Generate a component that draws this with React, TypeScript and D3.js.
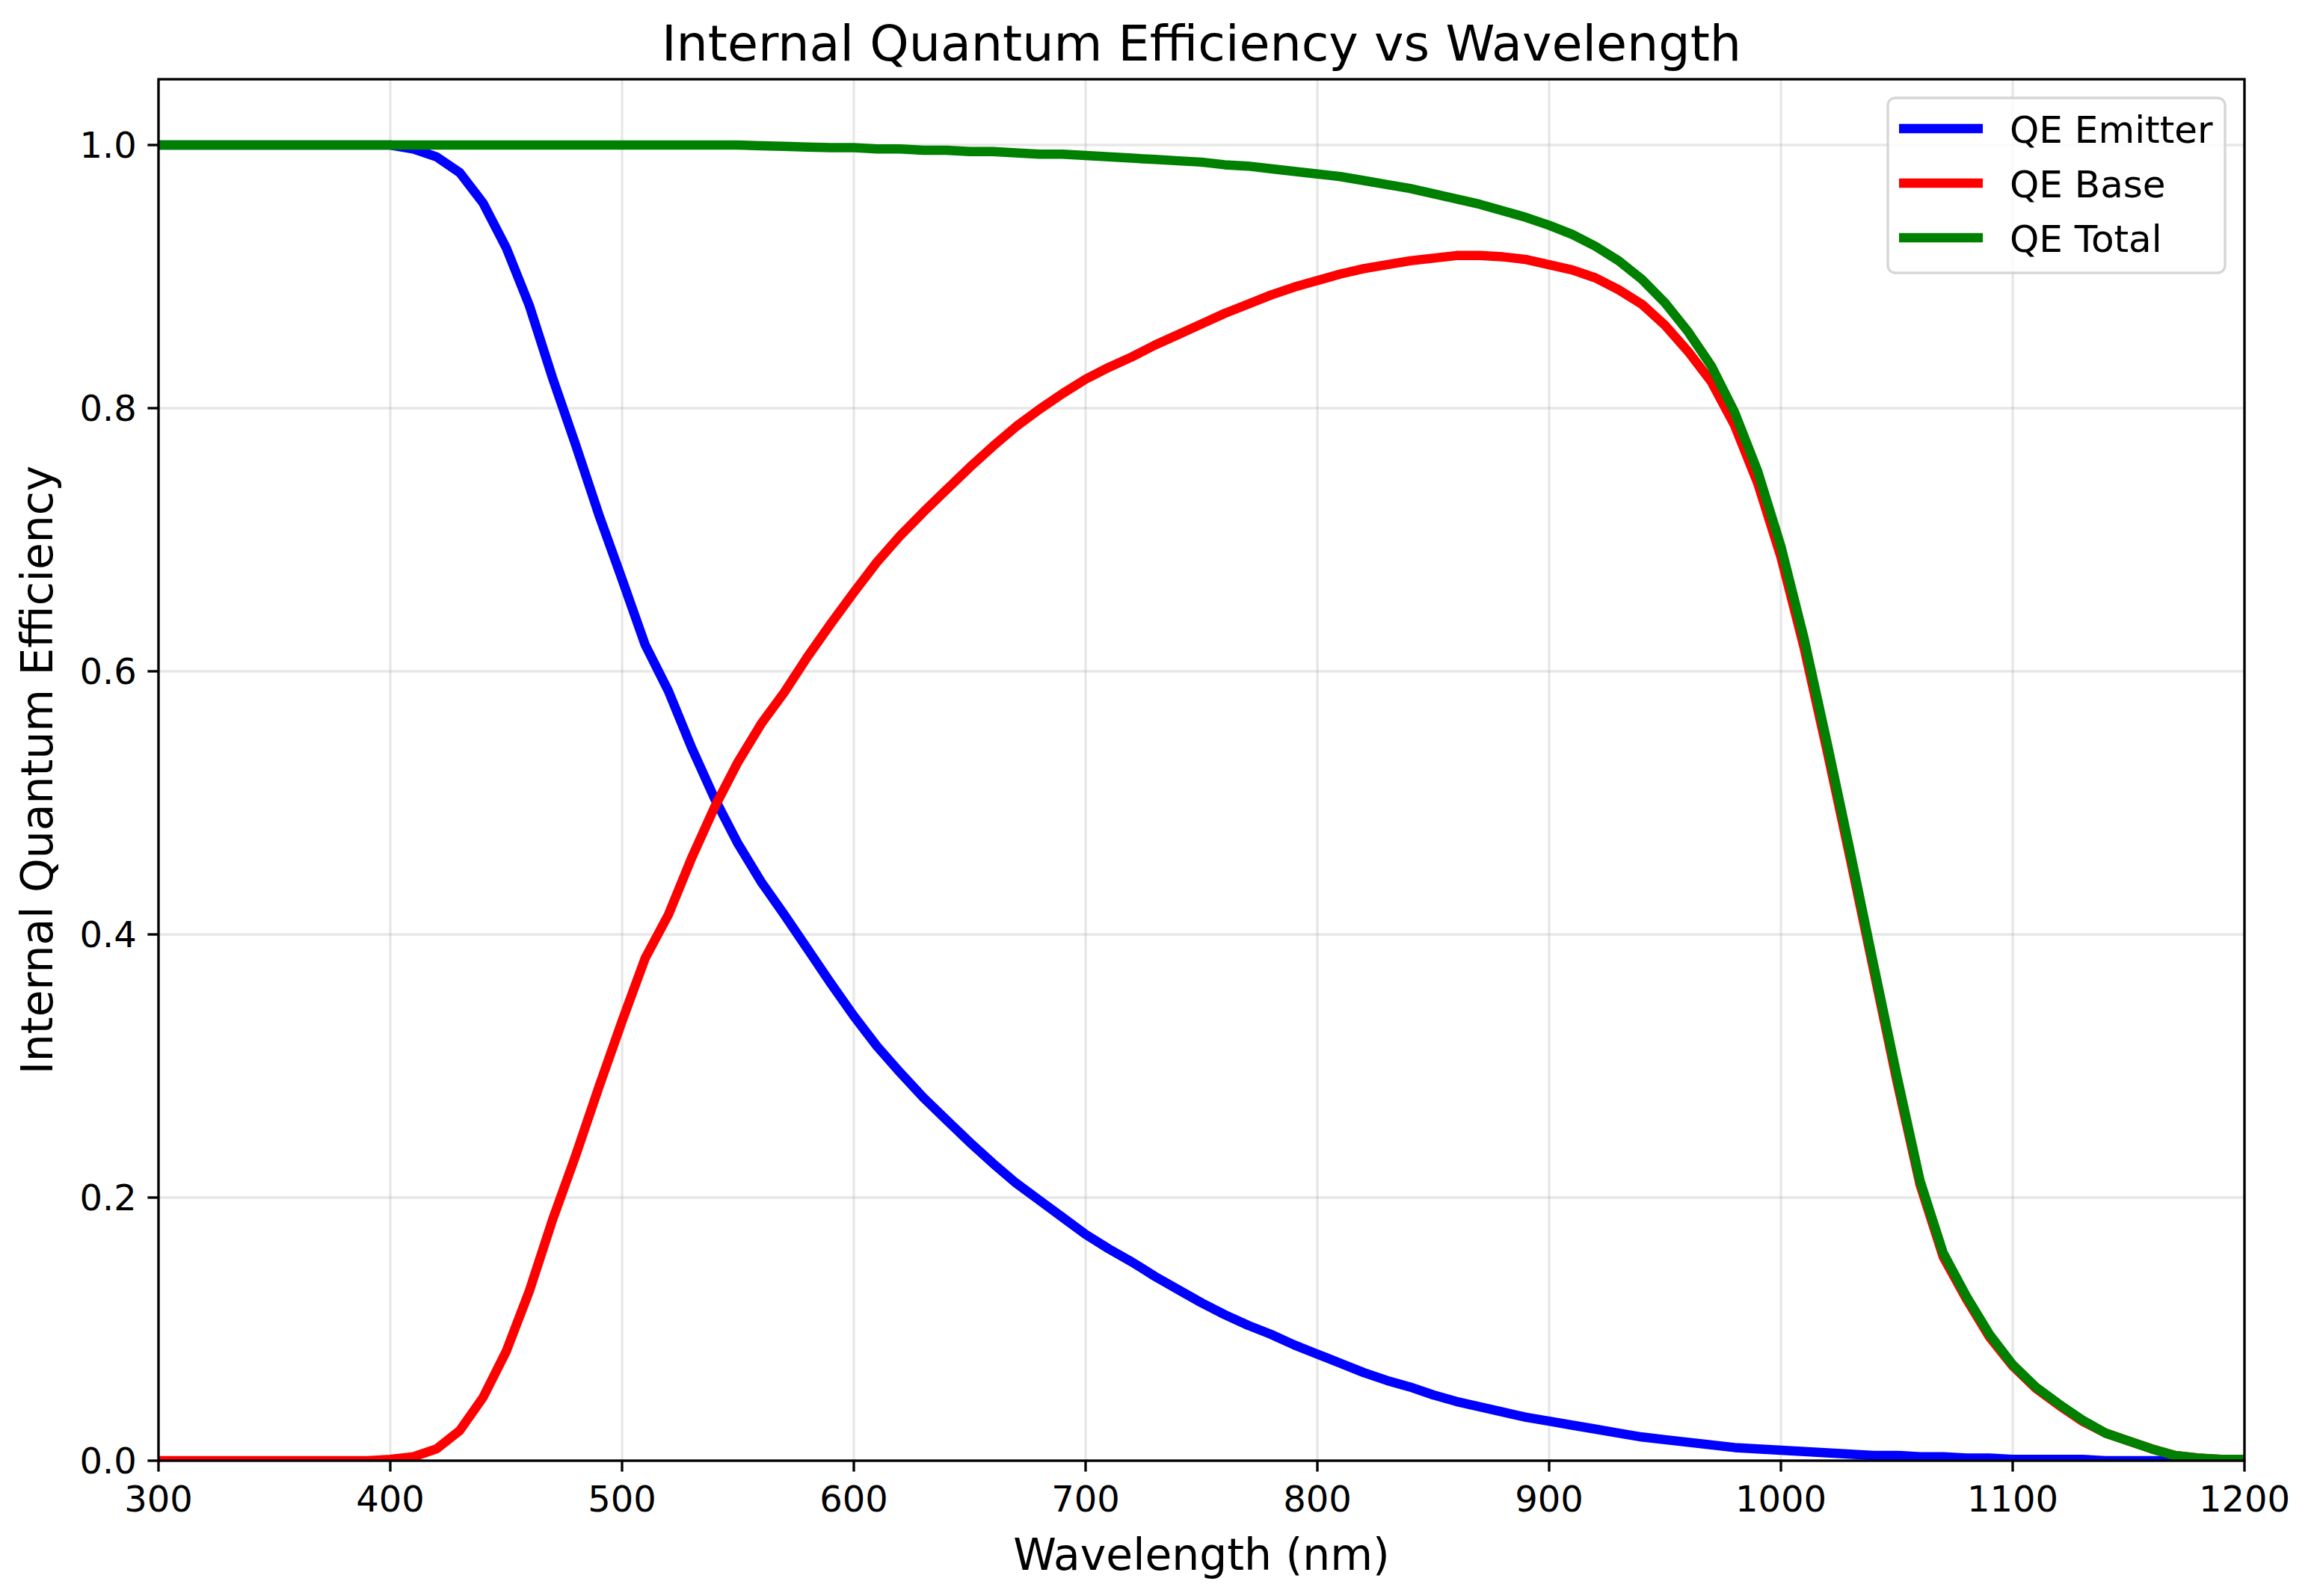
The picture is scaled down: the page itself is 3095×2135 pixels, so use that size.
import { useEffect, useRef } from "react";
import * as d3 from "d3";

// wavelength grid (nm)
const wavelengths = [
  300, 310, 320, 330, 340, 350, 360, 370, 380, 390, 400, 410, 420, 430, 440,
  450, 460, 470, 480, 490, 500, 510, 520, 530, 540, 550, 560, 570, 580, 590,
  600, 610, 620, 630, 640, 650, 660, 670, 680, 690, 700, 710, 720, 730, 740,
  750, 760, 770, 780, 790, 800, 810, 820, 830, 840, 850, 860, 870, 880, 890,
  900, 910, 920, 930, 940, 950, 960, 970, 980, 990, 1000, 1010, 1020, 1030,
  1040, 1050, 1060, 1070, 1080, 1090, 1100, 1110, 1120, 1130, 1140, 1150, 1160,
  1170, 1180, 1190, 1200,
];

const qeEmitter = [
  1.0, 1.0, 1.0, 1.0, 1.0, 1.0, 1.0, 1.0, 1.0, 1.0, 1.0, 0.997, 0.991, 0.979,
  0.956, 0.922, 0.878, 0.823, 0.772, 0.719, 0.67, 0.62, 0.585, 0.542, 0.503,
  0.469, 0.44, 0.415, 0.389, 0.363, 0.338, 0.315, 0.295, 0.276, 0.259, 0.242,
  0.226, 0.211, 0.198, 0.185, 0.172, 0.161, 0.151, 0.14, 0.13, 0.12, 0.111,
  0.103, 0.096, 0.088, 0.081, 0.074, 0.067, 0.061, 0.056, 0.05, 0.045, 0.041,
  0.037, 0.033, 0.03, 0.027, 0.024, 0.021, 0.018, 0.016, 0.014, 0.012, 0.01,
  0.009, 0.008, 0.007, 0.006, 0.005, 0.004, 0.004, 0.003, 0.003, 0.002, 0.002,
  0.001, 0.001, 0.001, 0.001, 0.0, 0.0, 0.0, 0.0, 0.0, 0.0, 0.0,
];

const qeBase = [
  0.0, 0.0, 0.0, 0.0, 0.0, 0.0, 0.0, 0.0, 0.0, 0.0, 0.001, 0.003, 0.009, 0.023,
  0.048, 0.083, 0.129, 0.183, 0.232, 0.284, 0.334, 0.382, 0.415, 0.458, 0.497,
  0.531, 0.56, 0.584, 0.611, 0.636, 0.66, 0.683, 0.703, 0.721, 0.738, 0.755,
  0.771, 0.786, 0.799, 0.811, 0.822, 0.831, 0.839, 0.848, 0.856, 0.864, 0.872,
  0.879, 0.886, 0.892, 0.897, 0.902, 0.906, 0.909, 0.912, 0.914, 0.916, 0.916,
  0.915, 0.913, 0.909, 0.905, 0.899, 0.89, 0.879, 0.863, 0.843, 0.82, 0.787,
  0.743, 0.687, 0.618, 0.539, 0.457, 0.373, 0.289, 0.21, 0.155, 0.123, 0.094,
  0.072, 0.055, 0.042, 0.03, 0.021, 0.015, 0.009, 0.004, 0.002, 0.001, 0.001,
];

const qeTotal = [
  1.0, 1.0, 1.0, 1.0, 1.0, 1.0, 1.0, 1.0, 1.0, 1.0, 1.0, 1.0, 1.0, 1.0, 1.0,
  1.0, 1.0, 1.0, 1.0, 1.0, 1.0, 1.0, 1.0, 1.0, 1.0, 1.0, 0.9995, 0.999, 0.9985,
  0.998, 0.998, 0.997, 0.997, 0.996, 0.996, 0.995, 0.995, 0.994, 0.993, 0.993,
  0.992, 0.991, 0.99, 0.989, 0.988, 0.987, 0.985, 0.984, 0.982, 0.98, 0.978,
  0.976, 0.973, 0.97, 0.967, 0.963, 0.959, 0.955, 0.95, 0.945, 0.939, 0.932,
  0.923, 0.912, 0.898, 0.88, 0.858, 0.832, 0.797, 0.752, 0.695, 0.625, 0.545,
  0.462, 0.377, 0.293, 0.213, 0.158, 0.125, 0.096, 0.073, 0.056, 0.043, 0.031,
  0.021, 0.015, 0.009, 0.004, 0.002, 0.001, 0.001,
];

const seriesNames = ["QE Emitter", "QE Base", "QE Total"];
const seriesColors = ["#0000ff", "#ff0000", "#008000"];
const xTicks = [300, 400, 500, 600, 700, 800, 900, 1000, 1100, 1200];
const yTicks = [0.0, 0.2, 0.4, 0.6, 0.8, 1.0];

export default function App() {
  const svgRef = useRef<SVGSVGElement>(null);

  useEffect(() => {
    if (!svgRef.current) return;
    const svg = d3.select(svgRef.current);
    svg.selectAll("*").remove();

    const width = 3095;
    const height = 2135;
    const plot = { left: 212, right: 3002, top: 106, bottom: 1954 };
    const font = "DejaVu Sans";
    const lw = 3.33; // 0.8pt at 300 dpi

    svg.attr("width", width).attr("height", height);
    svg.append("rect").attr("width", width).attr("height", height).attr("fill", "#fff");

    const x = d3.scaleLinear().domain([300, 1200]).range([plot.left, plot.right]);
    const y = d3.scaleLinear().domain([0, 1.05]).range([plot.bottom, plot.top]);

    // clip
    svg
      .append("clipPath")
      .attr("id", "plot-clip")
      .append("rect")
      .attr("x", plot.left)
      .attr("y", plot.top)
      .attr("width", plot.right - plot.left)
      .attr("height", plot.bottom - plot.top);

    // grid
    const grid = svg.append("g");
    xTicks.forEach((t) => {
      grid
        .append("line")
        .attr("x1", x(t))
        .attr("x2", x(t))
        .attr("y1", plot.top)
        .attr("y2", plot.bottom)
        .attr("stroke", "#b0b0b0")
        .attr("stroke-opacity", 0.3)
        .attr("stroke-width", lw);
    });
    yTicks.forEach((t) => {
      grid
        .append("line")
        .attr("x1", plot.left)
        .attr("x2", plot.right)
        .attr("y1", y(t))
        .attr("y2", y(t))
        .attr("stroke", "#b0b0b0")
        .attr("stroke-opacity", 0.3)
        .attr("stroke-width", lw);
    });

    // lines
    const series = [qeEmitter, qeBase, qeTotal];
    const line = d3
      .line<number>()
      .x((_, i) => x(wavelengths[i]))
      .y((d) => y(d));
    const lines = svg.append("g").attr("clip-path", "url(#plot-clip)");
    series.forEach((s, i) => {
      lines
        .append("path")
        .attr("d", line(s))
        .attr("fill", "none")
        .attr("stroke", seriesColors[i])
        .attr("stroke-width", 12.5)
        .attr("stroke-linejoin", "round")
        .attr("stroke-linecap", "square");
    });

    // spines
    svg
      .append("rect")
      .attr("x", plot.left)
      .attr("y", plot.top)
      .attr("width", plot.right - plot.left)
      .attr("height", plot.bottom - plot.top)
      .attr("fill", "none")
      .attr("stroke", "#000")
      .attr("stroke-width", lw);

    // x axis ticks
    const tickLen = 14.6;
    const tickFont = 48;
    xTicks.forEach((t) => {
      svg
        .append("line")
        .attr("x1", x(t))
        .attr("x2", x(t))
        .attr("y1", plot.bottom)
        .attr("y2", plot.bottom + tickLen)
        .attr("stroke", "#000")
        .attr("stroke-width", lw);
      svg
        .append("text")
        .attr("x", x(t))
        .attr("y", 2022)
        .attr("text-anchor", "middle")
        .attr("font-family", font)
        .attr("font-size", tickFont)
        .text(String(t));
    });

    // y axis ticks
    yTicks.forEach((t) => {
      svg
        .append("line")
        .attr("x1", plot.left - tickLen)
        .attr("x2", plot.left)
        .attr("y1", y(t))
        .attr("y2", y(t))
        .attr("stroke", "#000")
        .attr("stroke-width", lw);
      svg
        .append("text")
        .attr("x", plot.left - tickLen - 14.6)
        .attr("y", y(t) + tickFont * 0.364)
        .attr("text-anchor", "end")
        .attr("font-family", font)
        .attr("font-size", tickFont)
        .text(d3.format(".1f")(t));
    });

    // axis labels
    svg
      .append("text")
      .attr("x", (plot.left + plot.right) / 2)
      .attr("y", 2100)
      .attr("text-anchor", "middle")
      .attr("font-family", font)
      .attr("font-size", 58.3)
      .text("Wavelength (nm)");

    svg
      .append("text")
      .attr("transform", `translate(70, ${(plot.top + plot.bottom) / 2}) rotate(-90)`)
      .attr("text-anchor", "middle")
      .attr("font-family", font)
      .attr("font-size", 58.3)
      .text("Internal Quantum Efficiency");

    // title
    svg
      .append("text")
      .attr("x", (plot.left + plot.right) / 2)
      .attr("y", 81)
      .attr("text-anchor", "middle")
      .attr("font-family", font)
      .attr("font-size", 66.7)
      .text("Internal Quantum Efficiency vs Wavelength");

    // legend
    const legend = svg.append("g");
    legend
      .append("rect")
      .attr("x", 2525)
      .attr("y", 131)
      .attr("width", 2976 - 2525)
      .attr("height", 365 - 131)
      .attr("rx", 10)
      .attr("fill", "#fff")
      .attr("fill-opacity", 0.8)
      .attr("stroke", "#cccccc")
      .attr("stroke-opacity", 0.8)
      .attr("stroke-width", lw);

    seriesNames.forEach((name, i) => {
      const cy = 172 + i * 73;
      legend
        .append("line")
        .attr("x1", 2540)
        .attr("x2", 2652)
        .attr("y1", cy)
        .attr("y2", cy)
        .attr("stroke", seriesColors[i])
        .attr("stroke-width", 12.5);
      legend
        .append("text")
        .attr("x", 2688)
        .attr("y", cy + 19)
        .attr("font-family", font)
        .attr("font-size", 50)
        .text(name);
    });
  }, []);

  return (
    <div style={{ position: "absolute", left: 0, top: 0 }}>
      <svg ref={svgRef}></svg>
    </div>
  );
}
